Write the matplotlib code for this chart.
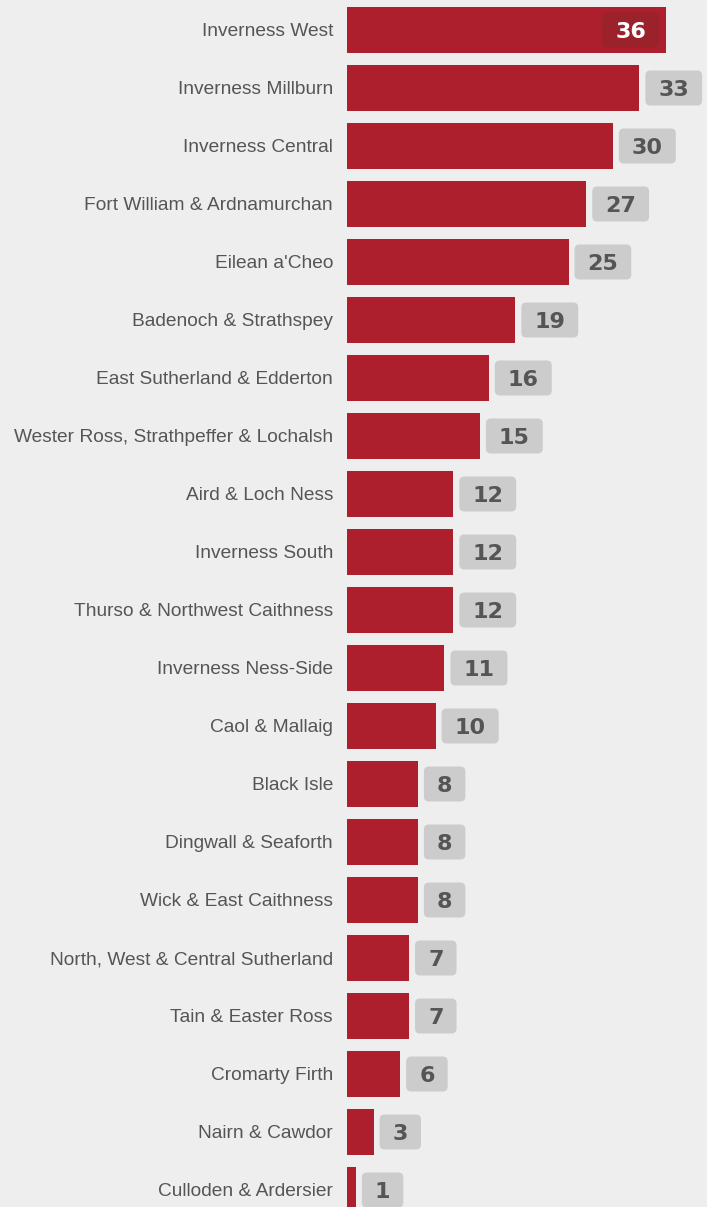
import matplotlib
matplotlib.use("Agg")
import matplotlib.pyplot as plt
from matplotlib.patches import FancyBboxPatch
from matplotlib.transforms import IdentityTransform, offset_copy

names = ["Inverness West", "Inverness Millburn", "Inverness Central",
         "Fort William & Ardnamurchan", "Eilean a'Cheo", "Badenoch & Strathspey",
         "East Sutherland & Edderton", "Wester Ross, Strathpeffer & Lochalsh",
         "Aird & Loch Ness", "Inverness South", "Thurso & Northwest Caithness",
         "Inverness Ness-Side", "Caol & Mallaig", "Black Isle", "Dingwall & Seaforth",
         "Wick & East Caithness", "North, West & Central Sutherland",
         "Tain & Easter Ross", "Cromarty Firth", "Nairn & Cawdor", "Culloden & Ardersier"]
values = [36, 33, 30, 27, 25, 19, 16, 15, 12, 12, 12, 11, 10, 8, 8, 8, 7, 7, 6, 3, 1]

BG = "#eeeeee"
BAR = "#ad1f2d"
W, H = 707, 1207
plt.rcParams['font.family'] = ['Liberation Sans', 'DejaVu Sans']

fig = plt.figure(figsize=(W / 100, H / 100), dpi=100, facecolor=BG)
left_px = 347
ax = fig.add_axes([left_px / W, 0, 1 - left_px / W, 1])
ax.set_facecolor(BG)
px_per_unit = 8.86
ax.set_xlim(0, (W - left_px) / px_per_unit)
pitch = 58.0
ax.set_ylim((H - 30) / pitch, -30 / pitch)

y = list(range(len(values)))
ax.barh(y, values, height=0.8, color=BAR, zorder=2)
for s in ax.spines.values():
    s.set_visible(False)
ax.set_xticks([])
ax.set_yticks(y)
ax.set_yticklabels(names, fontsize=13.8, color="#555555")
ax.tick_params(axis='y', length=0, pad=10)

padx = 13
box_h = 35
PT = 72 / 100.0
dy = -2.5 * PT
texts = []
for i, v in enumerate(values):
    inside = (i == 0)
    if inside:
        t = ax.text(v, i, str(v), ha='right', va='center', fontsize=16, fontweight='bold',
                    family='DejaVu Sans', color='white', zorder=4,
                    transform=offset_copy(ax.transData, fig=fig, x=-(7 + padx) * PT, y=dy, units='points'))
    else:
        t = ax.text(v, i, str(v), ha='left', va='center', fontsize=16, fontweight='bold',
                    family='DejaVu Sans', color='#555555', zorder=4,
                    transform=offset_copy(ax.transData, fig=fig, x=(6 + padx) * PT, y=dy, units='points'))
    texts.append((t, inside, i))

fig.canvas.draw()
r = fig.canvas.get_renderer()
for t, inside, i in texts:
    bb = t.get_window_extent(r)
    cy = ax.transData.transform((0, i))[1]
    patch = FancyBboxPatch((bb.x0 - padx, cy - box_h / 2), bb.width + 2 * padx, box_h,
                           boxstyle="round,pad=0,rounding_size=5",
                           facecolor="#9b222b" if inside else "#cccccc", edgecolor='none',
                           transform=IdentityTransform(), zorder=3, clip_on=False)
    ax.add_patch(patch)

fig.savefig("out.png", dpi=100, facecolor=BG)
